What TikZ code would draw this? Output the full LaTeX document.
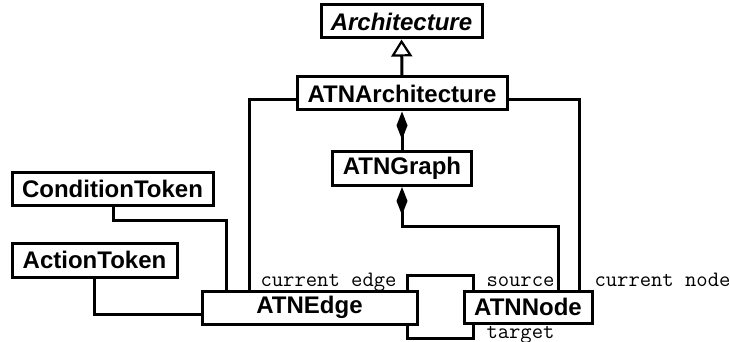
\documentclass[tikz,border=0pt]{standalone}
\usepackage{fontspec}
\setmainfont{Liberation Sans}
\usetikzlibrary{arrows.meta}
\begin{document}
\begin{tikzpicture}[x=1pt,y=-1pt,line width=3pt,
  cls/.style={draw,fill=white,rectangle,line width=3pt,inner sep=0pt,font=\fontsize{24}{26}\selectfont\bfseries},
  role/.style={inner sep=0pt,font=\fontsize{22}{24}\selectfont\ttfamily},
  gen/.style={-{Triangle[open,fill=white,length=17pt,width=21pt,line width=2.2pt]}},
  comp/.style={-{Diamond[length=28pt,width=11pt]}}]
\useasboundingbox (0,0) rectangle (730,342);

% classes
\node[cls,minimum width=161pt,minimum height=33pt] (arch) at (401.5,21.5) {\itshape Architecture};
\node[cls,minimum width=210pt,minimum height=33pt] (atnarch) at (402,93.5) {ATNArchitecture};
\node[cls,minimum width=139pt,minimum height=34pt] (atngraph) at (402,168.5) {ATNGraph};
\node[cls,minimum width=201pt,minimum height=33pt] (condtok) at (112.5,188.5) {ConditionToken};
\node[cls,minimum width=165pt,minimum height=34pt] (acttok) at (94.5,260) {ActionToken};
\node[cls,minimum width=215pt,minimum height=33pt] (atnedge) at (309.5,307.5) {ATNEdge};
\node[cls,minimum width=128pt,minimum height=32pt] (atnnode) at (528,307) {ATNNode};

% inheritance and composition
\draw[gen] (atnarch.north) -- (arch.south);
\draw[comp] (atngraph.north) -- (atnarch.south);
\draw[comp] ([xshift=30pt]atnnode.north) |- ([yshift=-39.5pt]atngraph.south) -- (atngraph.south);

% associations
\draw ([yshift=-6.5pt]atnarch.west) -| ([xshift=-60.5pt]atnedge.north);
\draw ([yshift=-6.5pt]atnarch.east) -| ([xshift=51pt]atnnode.north);
\draw ([xshift=0.5pt]condtok.south) -- ++(0,14) -| ([xshift=-83.5pt]atnedge.north);
\draw (acttok.south) |- ([yshift=-6.5pt]atnedge.west);
\draw ([xshift=97.5pt]atnedge.north) -- ++(0,-14) -| ([xshift=-55pt]atnnode.north);
\draw ([xshift=97.5pt]atnedge.south) -- ++(0,13) -| ([xshift=-55pt]atnnode.south);

% role names
\node[role,anchor=base east] (lce) at (398,286) {current edge};
\node[role,anchor=base west] (lsrc) at (485,286) {source};
\node[role,anchor=base west] (lcn) at (593,286) {current node};
\node[role,anchor=base west] (ltgt) at (485,338) {target};
\end{tikzpicture}
\end{document}
